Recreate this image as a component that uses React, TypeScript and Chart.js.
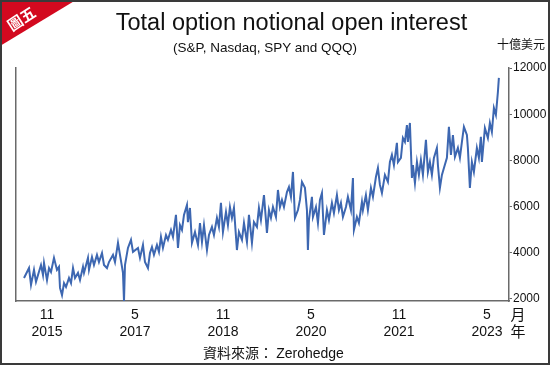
import React, { useEffect, useRef } from "react";
import { Chart, registerables } from "chart.js";

Chart.register(...registerables);

// x = months since Jan 2015 (0 = 2015-01)
const months = [
  5.3, 6.32, 6.73, 7.34, 7.75, 8.77, 9.18, 9.39, 10.0, 10.41, 10.82, 11.43, 12.04, 12.45, 12.66, 13.07,
  13.48, 13.89, 14.5, 14.91, 15.32, 15.73, 16.34, 16.75, 17.36, 17.57, 18.38, 18.59, 19.2, 19.61, 20.22,
  20.63, 21.25, 21.66, 22.27, 22.68, 23.5, 23.91, 24.52, 24.93, 25.34, 25.54, 25.75, 25.95, 26.56, 27.18,
  27.59, 28.61, 29.02, 29.63, 30.04, 30.65, 31.06, 31.47, 31.88, 32.49, 32.9, 33.31, 33.72, 34.34, 34.74,
  35.36, 35.77, 36.38, 36.79, 37.2, 37.61, 38.02, 38.63, 38.83, 39.24, 39.65, 40.27, 40.88, 41.29, 41.7,
  42.11, 42.72, 43.13, 43.74, 44.15, 44.76, 45.17, 45.58, 45.99, 46.61, 47.01, 47.42, 47.83, 48.24, 48.85,
  49.26, 49.88, 50.29, 50.9, 51.31, 51.92, 52.33, 52.94, 53.35, 53.76, 54.38, 54.99, 55.4, 55.81, 56.22,
  56.83, 57.24, 57.65, 58.06, 58.47, 59.08, 59.49, 59.9, 60.31, 60.72, 61.33, 61.74, 62.15, 62.76, 63.17,
  63.37, 63.58, 64.19, 64.4, 65.01, 65.42, 65.83, 66.24, 66.65, 67.26, 67.67, 68.28, 68.69, 69.3, 69.71,
  70.12, 70.53, 71.15, 71.55, 72.17, 72.58, 72.78, 73.39, 73.8, 74.42, 74.62, 75.23, 75.64, 76.26, 76.67,
  77.28, 77.69, 78.1, 78.51, 79.12, 79.73, 80.14, 80.55, 80.96, 81.57, 81.78, 82.39, 82.8, 83.21, 83.62,
  83.82, 84.23, 84.64, 84.85, 85.26, 85.67, 86.07, 86.48, 86.89, 87.51, 87.91, 88.32, 88.73, 89.14, 89.75,
  89.96, 90.37, 90.78, 91.19, 91.8, 92.21, 92.62, 93.03, 93.44, 94.05, 94.46, 94.87, 95.28, 95.89, 96.09,
  96.5, 96.91, 97.32, 97.93, 98.34, 98.75, 98.96, 99.57, 100.18, 100.59, 101.0, 101.41, 101.82, 102.23, 102.43,
];

// total option notional open interest, billion USD
const values = [
  2910, 3340, 2610, 3260, 2740, 3470, 3040, 3560, 2820, 3340, 3170, 3780, 3260, 3390, 2480, 2170,
  2690, 2520, 2910, 2690, 3340, 2910, 3130, 2820, 3390, 3130, 3780, 3260, 3820, 3470, 3910,
  3600, 3990, 3470, 3340, 3600, 3910, 3600, 4430, 3910, 3390, 3130, 1900, 3470, 4210, 4560,
  4040, 4210, 3780, 4340, 3600, 3340, 3990, 4250, 3910, 4340, 4040, 4690, 4210, 4770, 4560,
  4990, 4690, 5640, 4210, 5200, 4990, 5640, 6070, 5330, 5940, 4430, 4900, 4340, 5290, 4470,
  5200, 4120, 4770, 5120, 4770, 5510, 5120, 6160, 4900, 5770, 5200, 5980, 5510, 5940, 4120,
  4900, 4560, 5290, 4470, 5640, 4430, 5330, 5120, 5940, 5420, 6500, 4860, 5850, 5510, 5980,
  5550, 6720, 5980, 6290, 5980, 6630, 6850, 6420, 7500, 5510, 5850, 6290, 7070, 6810, 5850,
  4120, 5420, 6420, 5550, 5980, 5290, 6290, 6590, 4770, 5850, 5420, 6160, 5720, 6500, 5850,
  6160, 5550, 5980, 6420, 5850, 7240, 4990, 5550, 5290, 6200, 5850, 6500, 5850, 6810, 6420,
  7280, 7670, 6940, 6590, 7370, 7070, 7930, 8240, 7800, 8760, 7930, 8110, 8970, 8800, 9530,
  8800, 9620, 7240, 7800, 7020, 7930, 7370, 8020, 7370, 8890, 7500, 7930, 7370, 8110, 8540,
  7800, 6810, 7370, 7670, 8110, 9450, 8240, 9100, 8150, 8540, 8110, 8800, 9450, 9100, 8540,
  6810, 7930, 7500, 8540, 8110, 9020, 7930, 9400, 8970, 9620, 9230, 10270, 9970, 10960, 11570,
];

const tickMonths = [10, 28, 46, 64, 82, 100];
const tickMonthLabels = ["11", "5", "11", "5", "11", "5"];
const tickYearLabels = ["2015", "2017", "2018", "2020", "2021", "2023"];
const yTicks = [2000, 4000, 6000, 8000, 10000, 12000];

const SANS = "'Liberation Sans', Arial, sans-serif";
const CJK = "'Noto Sans CJK TC', 'Noto Sans CJK SC', sans-serif";

export default function App() {
  const ref = useRef<HTMLCanvasElement>(null);

  useEffect(() => {
    document.body.style.margin = "0";
    const axisColor = "#6a6a6a";
    const chart = new Chart(ref.current as HTMLCanvasElement, {
      type: "line",
      data: {
        datasets: [
          {
            data: months.map((m, i) => ({ x: m, y: values[i] })),
            borderColor: "#3d67b1",
            borderWidth: 2,
            pointRadius: 0,
            tension: 0,
            yAxisID: "y",
          },
        ],
      },
      options: {
        animation: false,
        responsive: false,
        events: [],
        layout: { padding: { left: 16, top: 68, right: 0, bottom: 0 } },
        plugins: { legend: { display: false }, tooltip: { enabled: false }, title: { display: false } },
        scales: {
          x: {
            type: "linear",
            position: "bottom",
            min: 3.66,
            max: 104.5,
            grid: { display: false, drawTicks: false, tickLength: 0 },
            border: { display: true, color: axisColor, width: 1.5 },
            afterBuildTicks: (s: any) => {
              s.ticks = tickMonths.map((v) => ({ value: v }));
            },
            afterFit: (s: any) => {
              s.height = 64;
            },
            ticks: {
              autoSkip: false,
              maxRotation: 0,
              padding: 6,
              color: "#111",
              font: { family: SANS, size: 14, lineHeight: 1.2 },
              callback: (v: any) => {
                const i = tickMonths.indexOf(Number(v));
                return i >= 0 ? [tickMonthLabels[i], tickYearLabels[i]] : "";
              },
            },
          },
          y: {
            type: "linear",
            position: "right",
            min: 1913,
            max: 12000,
            grid: { display: true, drawOnChartArea: false, drawTicks: true, tickLength: 3, color: axisColor, lineWidth: 1 },
            border: { display: true, color: axisColor, width: 1.5 },
            afterBuildTicks: (s: any) => {
              s.ticks = yTicks.map((v) => ({ value: v }));
            },
            afterFit: (s: any) => {
              s.width = 41;
            },
            ticks: {
              padding: 1,
              color: "#111",
              font: { family: SANS, size: 12 },
              callback: (v: any) => String(v),
            },
          },
          yl: {
            type: "linear",
            position: "left",
            min: 0,
            max: 1,
            grid: { display: false },
            border: { display: true, color: axisColor, width: 1.5 },
            ticks: { display: false },
            afterFit: (s: any) => {
              s.width = 0;
            },
          },
        },
      },
    } as any);
    return () => chart.destroy();
  }, []);

  const abs = (extra: React.CSSProperties): React.CSSProperties => ({
    position: "absolute",
    whiteSpace: "nowrap",
    lineHeight: 1,
    color: "#111",
    ...extra,
  });

  return (
    <div style={{ position: "relative", width: 550, height: 365, background: "#fff", overflow: "hidden" }}>
      <canvas ref={ref} width={550} height={365} style={{ position: "absolute", left: 0, top: 0, width: 550, height: 365 }} />
      <div
        style={{
          position: "absolute",
          left: 0,
          top: 0,
          width: 76,
          height: 46,
          background: "#d3091f",
          clipPath: "polygon(0 0, 100% 0, 0 100%)",
        }}
      />
      <div
        style={abs({
          left: 21,
          top: 18,
          transform: "translate(-50%, -50%) rotate(-33deg)",
          color: "#fff",
          fontFamily: CJK,
          fontWeight: 700,
          fontSize: 15,
        })}
      >
        圖五
      </div>
      <div style={abs({ left: 291.5, top: 10.5, transform: "translateX(-50%)", fontFamily: SANS, fontSize: 23.5 })}>
        Total option notional open interest
      </div>
      <div style={abs({ left: 265, top: 40.5, transform: "translateX(-50%)", fontFamily: SANS, fontSize: 13.5 })}>
        (S&amp;P, Nasdaq, SPY and QQQ)
      </div>
      <div style={abs({ right: 5, top: 38, fontFamily: CJK, fontSize: 12 })}>十億美元</div>
      <div style={abs({ left: 518, top: 305.5, transform: "translateX(-50%)", fontFamily: CJK, fontSize: 15 })}>月</div>
      <div style={abs({ left: 518, top: 322.5, transform: "translateX(-50%)", fontFamily: CJK, fontSize: 15 })}>年</div>
      <div style={abs({ left: 203, top: 345, fontFamily: CJK, fontSize: 14 })}>
        資料來源： <span style={{ fontFamily: SANS }}>Zerohedge</span>
      </div>
      <div
        style={{
          position: "absolute",
          left: 0,
          top: 0,
          width: 550,
          height: 365,
          boxSizing: "border-box",
          border: "2px solid #3a3a3a",
          pointerEvents: "none",
        }}
      />
    </div>
  );
}
